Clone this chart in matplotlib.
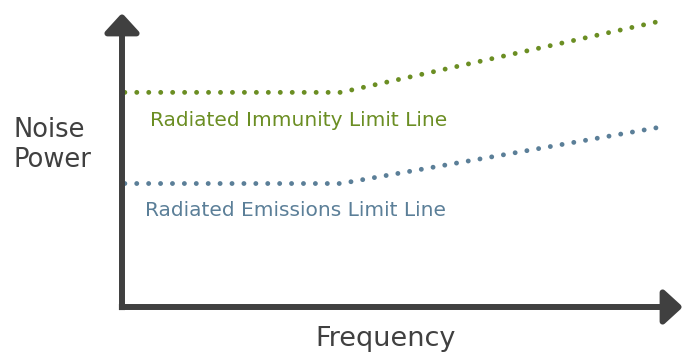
import matplotlib.pyplot as plt

# values (arbitrary units, 0-100 on both axes)
frequency = [0.5, 39, 95.4]
immunity_limit = [73, 73, 97]
emissions_limit = [42, 42, 61]

green = '#6b8e23'
blue = '#5b7f98'
axis_col = '#404040'

fig = plt.figure(figsize=(6.89, 3.53), dpi=100)
ax = fig.add_axes([122 / 689, 46 / 353, 561 / 689, 294 / 353])
ax.set_xlim(0, 100)
ax.set_ylim(0, 100)
ax.axis('off')

ax.plot(frequency, immunity_limit, color=green, lw=3.5,
        linestyle=(0, (0.01, 2.45)), dash_capstyle='round')
ax.plot(frequency, emissions_limit, color=blue, lw=3.5,
        linestyle=(0, (0.01, 2.44)), dash_capstyle='round')

# axis arrows, started a bit before the origin so the corner is square
arrow = dict(arrowstyle='-|>,head_length=11.5,head_width=10.5', mutation_scale=1,
             lw=4.3, color=axis_col, shrinkA=0, shrinkB=0, capstyle='butt')
ax.annotate('', xy=(0, 1), xytext=(0, -0.0105), xycoords='axes fraction',
            arrowprops=arrow)
ax.annotate('', xy=(1, 0), xytext=(-0.0055, 0), xycoords='axes fraction',
            arrowprops=arrow)

fig.text(150 / 689, 1 - 121 / 353, 'Radiated Immunity Limit Line', color=green,
         fontsize=14.5, va='center', ha='left')
fig.text(145 / 689, 1 - 211 / 353, 'Radiated Emissions Limit Line', color=blue,
         fontsize=14.5, va='center', ha='left')
fig.text(14 / 689, 1 - 145 / 353, 'Noise\nPower', color=axis_col,
         fontsize=18.5, va='center', ha='left', linespacing=1.2)
fig.text(386 / 689, 1 - 339 / 353, 'Frequency', color=axis_col,
         fontsize=19.5, va='center', ha='center')

fig.savefig('out.png', dpi=100)
